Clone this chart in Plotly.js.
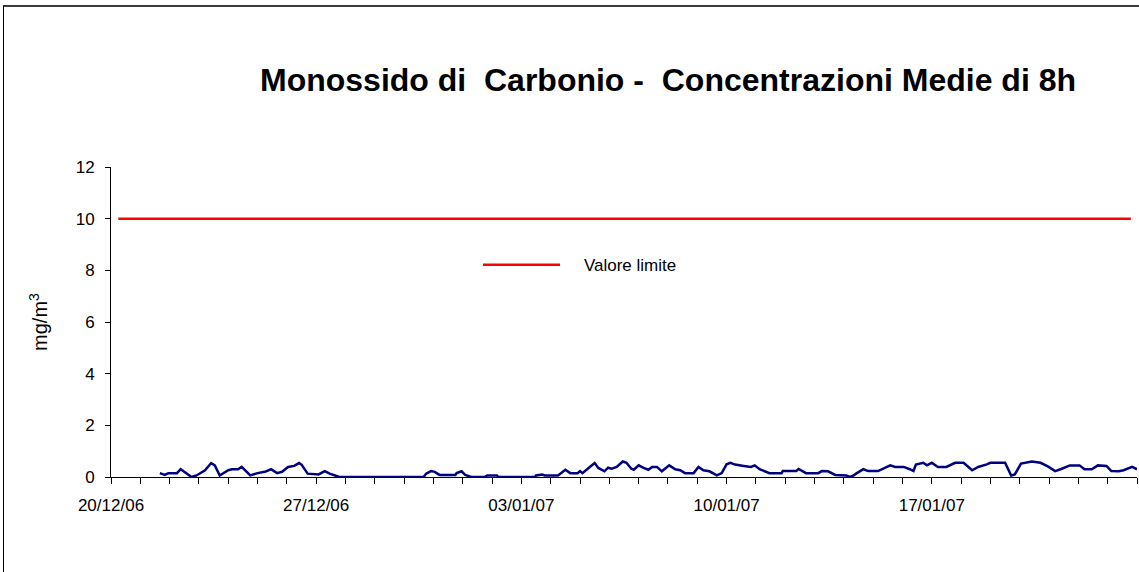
<!DOCTYPE html>
<html><head><meta charset="utf-8">
<script src="https://cdn.plot.ly/plotly-3.0.1.min.js"></script>
<style>
html,body{margin:0;padding:0;background:#fff;overflow:hidden;}
#chart{position:absolute;left:0;top:0;width:1139px;height:572px;}
#frame{position:absolute;left:3px;top:5px;width:1300px;height:700px;border-left:1px solid #000;border-top:2px solid #3a3a3a;pointer-events:none;}
</style></head><body>
<div id="chart"></div><div id="frame"></div>
<script>
// Monossido di Carbonio - medie mobili di 8h (mg/m3)
const coTimes = [
'2006-12-21 16:00','2006-12-21 20:00','2006-12-21 23:00','2006-12-22 06:00','2006-12-22 09:00','2006-12-22 14:00',
'2006-12-22 18:00','2006-12-22 22:00','2006-12-23 05:00','2006-12-23 10:00','2006-12-23 13:00','2006-12-23 17:00',
'2006-12-24 00:00','2006-12-24 03:00','2006-12-24 08:00','2006-12-24 11:00','2006-12-24 18:00','2006-12-25 00:00',
'2006-12-25 06:00','2006-12-25 11:00','2006-12-25 16:00','2006-12-25 20:00','2006-12-26 01:00','2006-12-26 06:00',
'2006-12-26 10:00','2006-12-26 12:00','2006-12-26 17:00','2006-12-27 02:00','2006-12-27 07:00','2006-12-27 11:00',
'2006-12-27 17:00','2006-12-27 19:00','2006-12-30 16:00','2006-12-30 18:00','2006-12-30 22:00','2006-12-31 01:00',
'2006-12-31 05:00','2006-12-31 18:00','2006-12-31 19:00','2006-12-31 23:00','2007-01-01 02:00','2007-01-01 06:00',
'2007-01-01 07:00','2007-01-01 18:00','2007-01-01 20:00','2007-01-02 04:00','2007-01-02 05:00','2007-01-03 11:00',
'2007-01-03 12:00','2007-01-03 17:00','2007-01-03 19:00','2007-01-04 06:00','2007-01-04 12:00','2007-01-04 16:00',
'2007-01-04 22:00','2007-01-05 00:00','2007-01-05 02:00','2007-01-05 08:00','2007-01-05 12:00','2007-01-05 15:00',
'2007-01-05 20:00','2007-01-05 23:00','2007-01-06 02:00','2007-01-06 06:00','2007-01-06 11:00','2007-01-06 14:00',
'2007-01-06 18:00','2007-01-06 20:00','2007-01-07 00:00','2007-01-07 04:00','2007-01-07 08:00','2007-01-07 11:00',
'2007-01-07 15:00','2007-01-07 19:00','2007-01-08 01:00','2007-01-08 06:00','2007-01-08 10:00','2007-01-08 14:00',
'2007-01-08 21:00','2007-01-09 01:00','2007-01-09 05:00','2007-01-09 10:00','2007-01-09 16:00','2007-01-09 20:00',
'2007-01-10 00:00','2007-01-10 03:00','2007-01-10 07:00','2007-01-10 14:00','2007-01-10 20:00','2007-01-10 23:00',
'2007-01-11 03:00','2007-01-11 11:00','2007-01-11 21:00','2007-01-11 22:00','2007-01-12 09:00','2007-01-12 11:00',
'2007-01-12 17:00','2007-01-13 03:00','2007-01-13 06:00','2007-01-13 11:00','2007-01-13 17:00','2007-01-14 02:00',
'2007-01-14 05:00','2007-01-14 08:00','2007-01-14 10:00','2007-01-14 16:00','2007-01-14 20:00','2007-01-15 04:00',
'2007-01-15 08:00','2007-01-15 14:00','2007-01-15 18:00','2007-01-16 01:00','2007-01-16 06:00','2007-01-16 09:00',
'2007-01-16 11:00','2007-01-16 17:00','2007-01-16 20:00','2007-01-17 00:00','2007-01-17 05:00','2007-01-17 12:00',
'2007-01-17 19:00','2007-01-18 02:00','2007-01-18 09:00','2007-01-18 14:00','2007-01-18 21:00','2007-01-19 00:00',
'2007-01-19 12:00','2007-01-19 17:00','2007-01-19 20:00','2007-01-20 01:00','2007-01-20 10:00','2007-01-20 17:00',
'2007-01-20 23:00','2007-01-21 05:00','2007-01-21 10:00','2007-01-21 17:00','2007-01-22 01:00','2007-01-22 05:00',
'2007-01-22 11:00','2007-01-22 16:00','2007-01-22 23:00','2007-01-23 03:00','2007-01-23 09:00','2007-01-23 13:00',
'2007-01-23 20:00','2007-01-24 00:00'
];
const coValues = [
0.15,0.08,0.15,0.15,0.30,0.15,
0.00,0.06,0.26,0.54,0.45,0.06,
0.26,0.30,0.30,0.39,0.06,0.15,
0.20,0.30,0.15,0.20,0.39,0.43,
0.54,0.48,0.13,0.10,0.23,0.13,
0.03,0.00,0.00,0.13,0.23,0.20,
0.08,0.08,0.15,0.22,0.08,0.03,
0.00,0.00,0.06,0.06,0.00,0.00,
0.06,0.10,0.06,0.06,0.28,0.15,
0.15,0.23,0.15,0.39,0.54,0.35,
0.22,0.36,0.32,0.39,0.60,0.55,
0.32,0.28,0.45,0.35,0.28,0.39,
0.39,0.22,0.45,0.30,0.26,0.15,
0.15,0.39,0.26,0.22,0.06,0.15,
0.49,0.55,0.48,0.43,0.39,0.45,
0.30,0.15,0.15,0.23,0.23,0.31,
0.15,0.15,0.23,0.22,0.08,0.06,
0.00,0.06,0.13,0.30,0.23,0.23,
0.32,0.45,0.39,0.39,0.30,0.23,
0.48,0.55,0.45,0.55,0.39,0.39,
0.55,0.55,0.26,0.39,0.49,0.55,
0.55,0.06,0.10,0.52,0.60,0.55,
0.41,0.23,0.31,0.45,0.45,0.30,
0.30,0.45,0.43,0.23,0.22,0.26,
0.39,0.30
];
const limitName = 'Valore limite';
const limitTimes = ['2006-12-20 06:00','2007-01-23 19:00'];
const limitValues = [10, 10];
const xRange = ['2006-12-20 00:00','2007-01-24 00:00'];
const yRange = [0, 12];
const titleText = 'Monossido di\u00a0\u00a0Carbonio -\u00a0\u00a0Concentrazioni Medie di 8h';
const yTitleText = 'mg/m<sup>3</sup>';

const DAY = 86400000;
const traces = [
  {x: coTimes, y: coValues, type: 'scatter', mode: 'lines', name: 'CO',
   line: {color: '#000080', width: 2.5}, showlegend: false, hoverinfo: 'x+y'},
  {x: limitTimes, y: limitValues, type: 'scatter', mode: 'lines',
   name: '\u00a0\u00a0\u00a0\u00a0' + limitName,
   line: {color: '#ff0000', width: 2.5}, showlegend: true}
];
const layout = {
  width: 1139, height: 572,
  margin: {l: 111, r: 2, t: 167, b: 95, pad: 0},
  paper_bgcolor: '#ffffff', plot_bgcolor: '#ffffff',
  font: {family: 'Arial, "Liberation Sans", sans-serif', color: '#000'},
  title: {text: titleText, font: {size: 32, family: 'Arial, "Liberation Sans", sans-serif', weight: 'bold', color: '#000'},
          xref: 'container', x: 668/1139, xanchor: 'center', yref: 'container', y: 1 - 80/572, yanchor: 'middle'},
  xaxis: {type: 'date', range: xRange, showgrid: false, zeroline: false,
          showline: true, linecolor: '#000', linewidth: 1,
          ticks: 'outside', ticklen: 6, tickcolor: '#000', tickwidth: 1,
          tickmode: 'linear', tick0: xRange[0], dtick: 7 * DAY, tickformat: '%d/%m/%y',
          tickfont: {size: 17, color: '#000'}, ticklabelstandoff: 7,
          minor: {dtick: DAY, ticks: 'outside', ticklen: 6, tickcolor: '#000', tickwidth: 1, showgrid: false}},
  yaxis: {range: yRange, dtick: 2, showgrid: false, zeroline: false,
          showline: true, linecolor: '#000', linewidth: 1,
          ticks: 'outside', ticklen: 5, tickcolor: '#000', tickwidth: 1,
          tickfont: {size: 17, color: '#000'}, ticklabelstandoff: 7,
          title: {text: yTitleText, font: {size: 20, color: '#000'}, standoff: 22}},
  legend: {x: (478 - 111) / 1026, y: (476.7 - 265) / 310, xanchor: 'left', yanchor: 'middle',
           bgcolor: 'rgba(0,0,0,0)', borderwidth: 0, itemwidth: 77,
           font: {size: 17, color: '#000'}},
  showlegend: true
};
Plotly.newPlot('chart', traces, layout, {displayModeBar: false, staticPlot: true});
</script>
</body></html>
